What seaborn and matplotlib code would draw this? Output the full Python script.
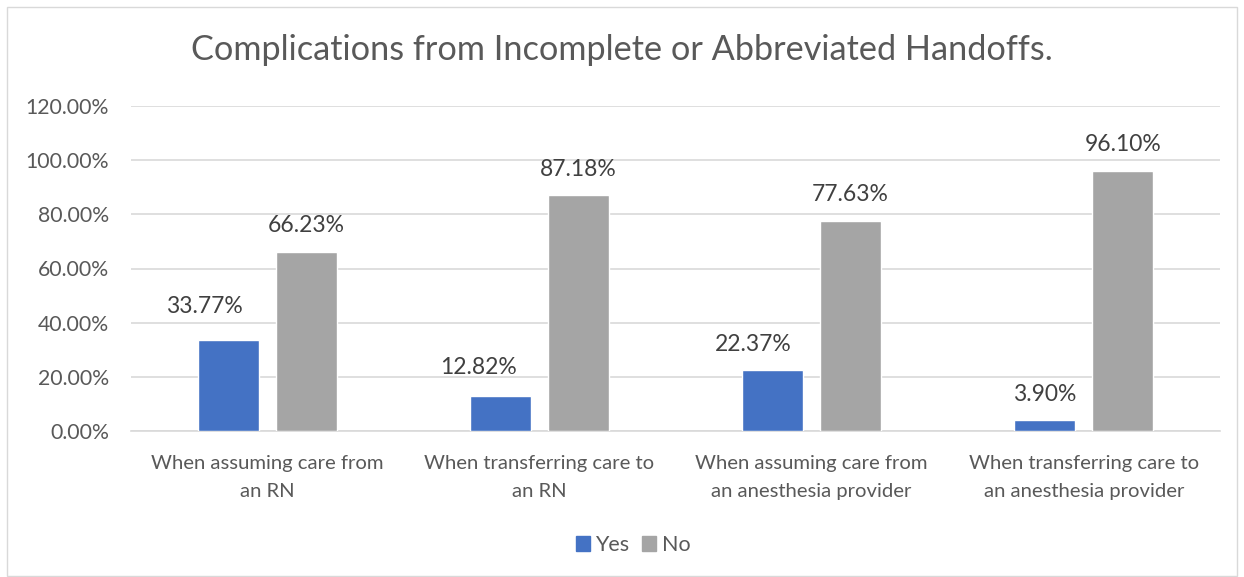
import matplotlib
matplotlib.use("Agg")
import matplotlib.pyplot as plt
import matplotlib.patches as mpatches
from matplotlib.ticker import FuncFormatter, MultipleLocator
import seaborn as sns
import pandas as pd

# Survey results
categories = [
    "When assuming care from\nan RN",
    "When transferring care to\nan RN",
    "When assuming care from\nan anesthesia provider",
    "When transferring care to\nan anesthesia provider",
]
yes_values = [33.77, 12.82, 22.37, 3.90]
no_values = [66.23, 87.18, 77.63, 96.10]
series_names = ["Yes", "No"]
title = "Complications from Incomplete or Abbreviated Handoffs."

colors = {"Yes": "#4472C4", "No": "#A5A5A5"}

# Label nudges (points) so the "Yes" labels sit clear of neighbouring labels
label_nudges = {
    "Yes": [(-17, 5), (-16, 2), (-14, 0), (0, 0)],
    "No": [(0, 0), (0, 0), (0, 0), (0, 0)],
}

df = pd.DataFrame({
    "category": categories * 2,
    "series": ["Yes"] * len(categories) + ["No"] * len(categories),
    "value": yes_values + no_values,
})

sns.set_theme(style="white")
plt.rcParams["font.family"] = ["Lato", "DejaVu Sans"]

fig = plt.figure(figsize=(12.44, 5.77), dpi=100)
ax = fig.add_axes([131 / 1244, 1 - 431 / 577, (1220 - 131) / 1244, (431 - 106) / 577])

sns.barplot(data=df, x="category", y="value", hue="series", hue_order=series_names,
            palette=colors, width=0.573, gap=0.22, saturation=1, ax=ax,
            legend=False, zorder=3)

ax.set_ylim(0, 120)
ax.set_xlim(-0.5, len(categories) - 0.5)
ax.yaxis.set_major_locator(MultipleLocator(20))
ax.yaxis.set_major_formatter(FuncFormatter(lambda v, _: f"{v:.2f}%"))
ax.grid(axis="y", color="#D9D9D9", linewidth=1.2, zorder=0)
ax.set_axisbelow(True)
for side in ["top", "right", "left"]:
    ax.spines[side].set_visible(False)
ax.spines["bottom"].set_color("#D9D9D9")
ax.spines["bottom"].set_linewidth(1.2)
ax.tick_params(axis="y", length=0, labelsize=15.3, colors="#595959", pad=16)
ax.tick_params(axis="x", length=0, labelsize=14.6, colors="#595959", pad=17)
for lbl in ax.get_xticklabels():
    lbl.set_linespacing(1.8)
ax.set_xlabel("")
ax.set_ylabel("")

for container, name in zip(ax.containers, series_names):
    for bar, (dx, dy) in zip(container, label_nudges[name]):
        h = bar.get_height()
        ax.annotate(f"{h:.2f}%", xy=(bar.get_x() + bar.get_width() / 2, h),
                    xytext=(dx, 11 + dy), textcoords="offset points",
                    ha="center", va="bottom", fontsize=16.5, color="#404040")

fig.text(0.5, 1 - 50 / 577, title, ha="center", va="center",
         fontsize=24.7, color="#595959")

handles = [mpatches.Patch(color=colors[s], label=s) for s in series_names]
fig.legend(handles=handles, loc="center", bbox_to_anchor=(633 / 1244, 1 - 545 / 577),
           ncol=2, frameon=False, fontsize=15.5, handlelength=0.65, handleheight=0.65,
           handletextpad=0.25, columnspacing=0.6, labelcolor="#595959")

fig.add_artist(mpatches.Rectangle((7 / 1244, 0.002), 1230 / 1244, 1 - 7 / 577 - 0.002,
                                  transform=fig.transFigure, fill=False,
                                  edgecolor="#D9D9D9", linewidth=1))

fig.savefig("out.png", dpi=100, facecolor="white")
